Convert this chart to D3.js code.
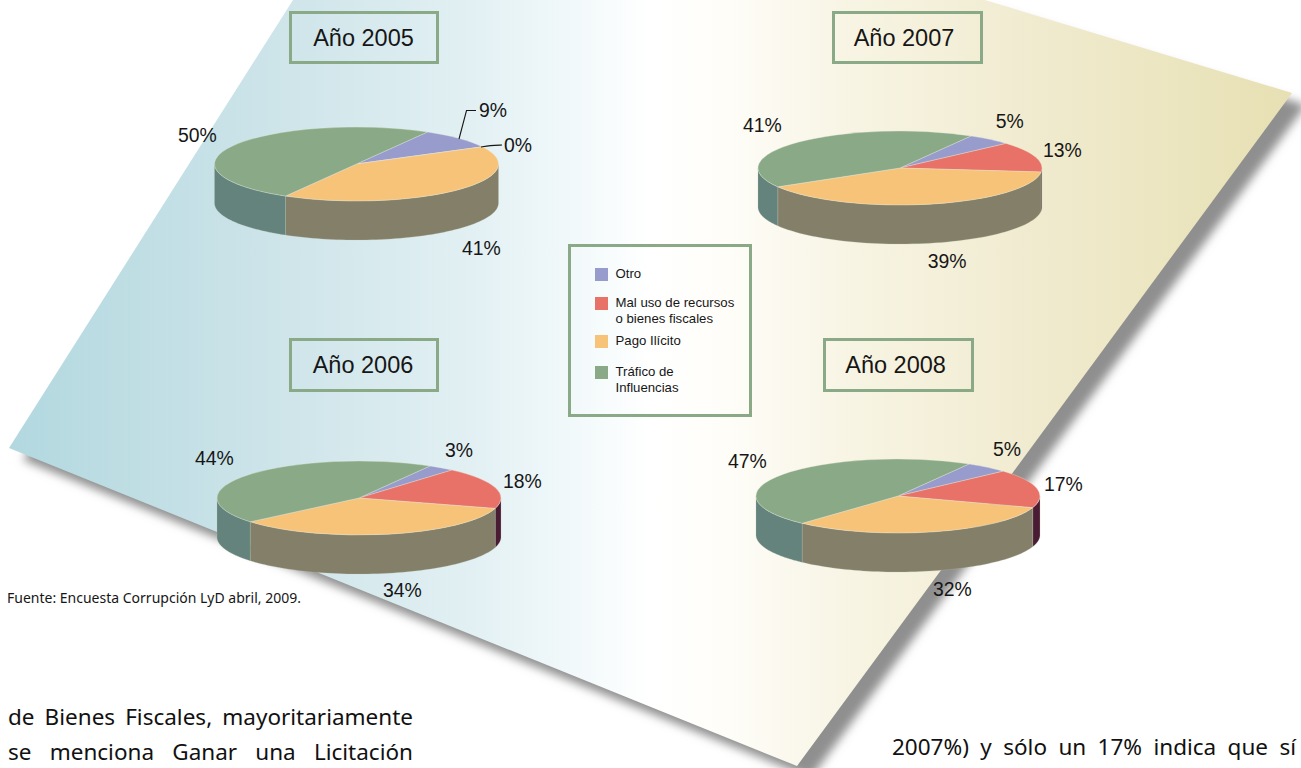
<!DOCTYPE html>
<html>
<head>
<meta charset="utf-8">
<script src="https://cdn.jsdelivr.net/npm/d3@7"></script>
<style>
html,body{margin:0;padding:0;background:#fff;overflow:hidden}
svg{display:block}
text{font-family:"Liberation Sans",Arial,sans-serif;fill:#161616}
.body{font-family:"Noto Sans",sans-serif;font-size:22.5px;fill:#111}
</style>
</head>
<body>
<svg id="c" width="1301" height="768"></svg>
<script>
// ---- data ----
const categories = ["Otro", "Mal uso de recursos o bienes fiscales", "Pago Ilícito", "Tráfico de Influencias"];
const years = ["Año 2005", "Año 2006", "Año 2007", "Año 2008"];
const values2005 = [9, 0, 41, 50];
const values2006 = [3, 18, 34, 44];
const values2007 = [5, 13, 39, 41];
const values2008 = [5, 17, 32, 47];
const source = "Fuente: Encuesta Corrupción LyD abril, 2009.";
const bodyLeft = ["de Bienes Fiscales, mayoritariamente", "se menciona Ganar una Licitación"];
const bodyRight = ["2007%) y sólo un 17% indica que sí"];

// ---- styles and layout ----
const topColors  = ["#979ccd", "#e87168", "#f7c379", "#8aa987"];
const sideColors = ["#5c5e80", "#4a1c33", "#837f68", "#64837c"];
const frame = "#8aa987";
const rx = 142, ry = 37, depth = 39;
const rad = d => d * Math.PI / 180;

const layout = [
  {values: values2005, cx: 356.5, cy: 164, box: [290.5, 12.5, 147, 50], tx: 363.5, ty: 45.7,
   labels: [[479,116.7],[504,151.7],[462,254.7],[178,142]]},
  {values: values2006, cx: 359, cy: 498, box: [290.5, 339.5, 147, 51], tx: 363, ty: 372.5,
   labels: [[445,457],[503,488],[383,597],[195,465]]},
  {values: values2007, cx: 900, cy: 168, box: [833.5, 12.5, 148, 50], tx: 904, ty: 45.7,
   labels: [[995.7,127.7],[1043,157],[927.7,267.7],[743,131.7]]},
  {values: values2008, cx: 898, cy: 496, box: [824.5, 339.5, 148, 51], tx: 895.6, ty: 372.5,
   labels: [[993,455.7],[1044,491],[933,595.7],[728,467.7]]}
];

const svg = d3.select("#c");
const defs = svg.append("defs");

// ---- background sheet ----
const grad = defs.append("linearGradient").attr("id", "sheet")
  .attr("gradientUnits", "userSpaceOnUse").attr("x1", 9).attr("x2", 1292).attr("y1", 0).attr("y2", 0);
[[0,"#b2d8df"],[0.22,"#cfe5ea"],[0.36,"#e2f0f3"],[0.46,"#f6fbfc"],[0.5,"#ffffff"],[0.56,"#fefdf8"],
 [0.66,"#f7f4e3"],[0.8,"#f0ebcf"],[1,"#e7e0b3"]].forEach(s =>
  grad.append("stop").attr("offset", s[0]).attr("stop-color", s[1]));

const blur = defs.append("filter").attr("id", "blur")
  .attr("x", "-5%").attr("y", "-5%").attr("width", "110%").attr("height", "110%");
blur.append("feGaussianBlur").attr("stdDeviation", 5);

const sheet = [[9,448],[293,0],[985,0],[1292,93],[797,766]];
const sheetPath = d3.line()(sheet) + "Z";
svg.append("path").attr("d", sheetPath).attr("fill", "#8f8f8f")
  .attr("transform", "translate(14,12)").attr("filter", "url(#blur)");
svg.append("path").attr("d", sheetPath).attr("fill", "url(#sheet)");

// ---- pies ----
const pie = d3.pie().sort(null).startAngle(rad(30)).endAngle(rad(390));
const arc = d3.arc().innerRadius(0).outerRadius(rx);
const sideArea = d3.area()
  .x(a => rx * Math.sin(a))
  .y0(a => -ry * Math.cos(a))
  .y1(a => -ry * Math.cos(a) + depth);

layout.forEach(p => {
  const g = svg.append("g").attr("transform", `translate(${p.cx},${p.cy})`);
  const arcs = pie(p.values);

  // visible rim: the front half of the ellipse
  arcs.forEach((d, i) => {
    const a0 = Math.max(d.startAngle, rad(90)), a1 = Math.min(d.endAngle, rad(270));
    if (a1 <= a0) return;
    const pts = d3.range(0, 61).map(k => a0 + (a1 - a0) * k / 60);
    g.append("path").attr("d", sideArea(pts)).attr("fill", sideColors[i])
      .attr("stroke", "#b9c4b4").attr("stroke-width", 0.25);
  });

  // top face
  const top = g.append("g").attr("transform", `scale(1,${ry / rx})`);
  top.selectAll("path").data(arcs).join("path")
    .attr("d", arc)
    .attr("fill", (d, i) => topColors[i])
    .attr("stroke", "#e8ecdc").attr("stroke-width", 0.5)
    .attr("stroke-opacity", 0.7)
    .attr("vector-effect", "non-scaling-stroke");

  // percent labels
  svg.append("g").selectAll("text").data(p.values).join("text")
    .attr("x", (d, i) => p.labels[i][0])
    .attr("y", (d, i) => p.labels[i][1])
    .attr("font-size", 19.4)
    .text(d => d + "%");
});

// leader lines of the 2005 pie
const leaders = svg.append("g").attr("fill", "none").attr("stroke", "#161616").attr("stroke-width", 1.1);
leaders.append("path").attr("d", d3.line()([[459,139],[466.5,110.5],[476,110.5]]));
leaders.append("path").attr("d", d3.line().curve(d3.curveBasis)([[481,147],[490,145.5],[502,145]]));

// ---- title boxes ----
layout.forEach((p, i) => {
  svg.append("rect").attr("x", p.box[0]).attr("y", p.box[1]).attr("width", p.box[2]).attr("height", p.box[3])
    .attr("fill", "none").attr("stroke", frame).attr("stroke-width", 3);
  svg.append("text").attr("x", p.tx).attr("y", p.ty).attr("text-anchor", "middle")
    .attr("font-size", 23.5).text(years[i]);
});

// ---- legend ----
svg.append("rect").attr("x", 569.5).attr("y", 245.5).attr("width", 181).attr("height", 170)
  .attr("fill", "none").attr("stroke", frame).attr("stroke-width", 3);
const legendSwatchY = [268, 297, 335, 366];
const legendLines = [["Otro"], ["Mal uso de recursos", "o bienes fiscales"], ["Pago Ilícito"], ["Tráfico de", "Influencias"]];
const legendBase = [[278], [306.5, 322.5], [345], [376, 392]];
categories.forEach((c, i) => {
  svg.append("rect").attr("x", 595).attr("y", legendSwatchY[i]).attr("width", 13).attr("height", 13)
    .attr("fill", topColors[i]);
  legendLines[i].forEach((l, j) =>
    svg.append("text").attr("x", 615.5).attr("y", legendBase[i][j]).attr("font-size", 13.2).text(l));
});

// ---- source and surrounding text ----
svg.append("text").attr("x", 7).attr("y", 603)
  .attr("font-size", 13.5).attr("textLength", 294).attr("lengthAdjust", "spacingAndGlyphs")
  .style("font-family", '"Noto Sans",sans-serif').text(source);

function justified(str, x, y, width) {
  const t = svg.append("text").attr("class", "body").attr("x", x).attr("y", y).text(str);
  const gaps = str.split(" ").length - 1;
  t.style("word-spacing", (width - t.node().getComputedTextLength()) / gaps + "px");
}
justified(bodyLeft[0], 8, 725, 405);
justified(bodyLeft[1], 8, 760, 405);
justified(bodyRight[0], 892, 755, 404);
</script>
</body>
</html>
